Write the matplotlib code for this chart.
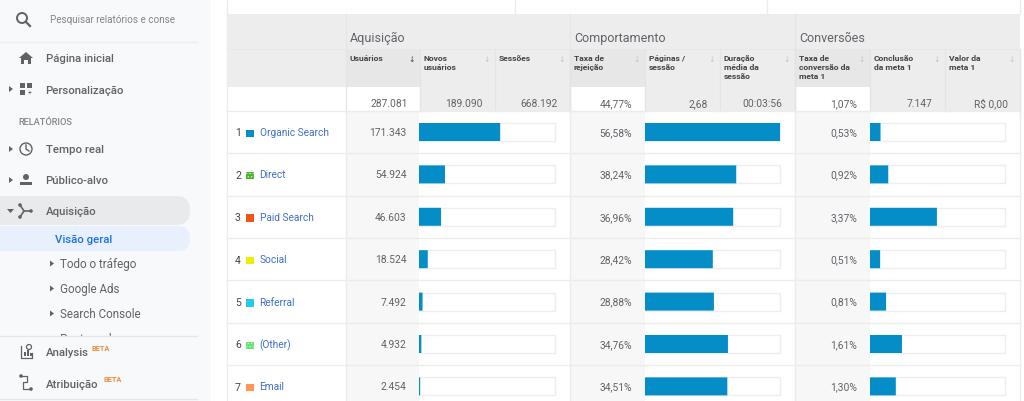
import matplotlib
matplotlib.use('Agg')
import matplotlib.pyplot as plt
from matplotlib.patches import Rectangle, Circle, Polygon, FancyBboxPatch

plt.rcParams['font.family'] = ['Roboto', 'DejaVu Sans']
plt.rcParams['hatch.linewidth'] = 0.5

W, H = 1024, 402

# Dados da tabela
channels = ['Organic Search', 'Direct', 'Paid Search', 'Social', 'Referral', '(Other)', 'Email']
channel_colors = ['#058dc7', '#50b432', '#ed561b', '#edef00', '#24cbe5', '#64e572', '#ff9655']
hatched = ['Direct', '(Other)']
users = [171343, 54924, 46603, 18524, 7492, 4932, 2454]
users_txt = ['171.343', '54.924', '46.603', '18.524', '7.492', '4.932', '2.454']
bounce = [56.58, 38.24, 36.96, 28.42, 28.88, 34.76, 34.51]
conv = [0.53, 0.92, 3.37, 0.51, 0.81, 1.61, 1.30]
users_total = 287081
conv_scale = 6.8

groups = ['Aquisição', 'Comportamento', 'Conversões']
metric_names = ['Usuários', 'Novos\nusuários', 'Sessões',
                'Taxa de\nrejeição', 'Páginas /\nsessão', 'Duração\nmédia da\nsessão',
                'Taxa de\nconversão da\nmeta 1', 'Conclusão\nda meta 1', 'Valor da\nmeta 1']
totals = ['287.081', '189.090', '668.192', '44,77%', '2,68', '00:03:56', '1,07%', '7.147', 'R$ 0,00']

menu_main = [('Página inicial', 59.5), ('Personalização', 90.5), ('Tempo real', 150.5),
             ('Público-alvo', 181.5), ('Aquisição', 212)]
menu_sub = [('Todo o tráfego', 264.5), ('Google Ads', 289.5), ('Search Console', 314.5)]

col_x = [346, 420, 495, 570, 645, 720, 795, 870, 945, 1020]
row_first = 133
row_step = 42.4
row_y = [row_first + i * row_step for i in range(len(channels))]

fig = plt.figure(figsize=(W / 100, H / 100), dpi=100, facecolor='white')
ax = fig.add_axes([0, 0, 1, 1])
ax.set_xlim(0, W)
ax.set_ylim(H, 0)
ax.axis('off')

TXT = '#5f6368'
DARK = '#444444'
GRID = '#ececec'


def rect(x0, y0, x1, y1, color, z=1, **kw):
    ax.add_patch(Rectangle((x0, y0), x1 - x0, y1 - y0, facecolor=color, edgecolor='none', zorder=z, **kw))


# Barra lateral
rect(0, 0, 211, H, '#f8f9fa')
ax.plot([0, 197], [43, 43], color='#eeeeee', lw=1, zorder=2)
ax.add_patch(Circle((22, 19), 5, fill=False, edgecolor=TXT, lw=1.4, zorder=3))
ax.plot([26, 30], [23, 27], color=TXT, lw=1.6, zorder=3)
ax.text(49.5, 20, 'Pesquisar relatórios e conse', fontsize=7.15, color='#80868b', va='center', zorder=3)

ax.add_patch(FancyBboxPatch((-20, 197), 210, 29, boxstyle='round,pad=0,rounding_size=14',
                            facecolor='#e9eaec', edgecolor='none', zorder=2))
ax.add_patch(FancyBboxPatch((-20, 227), 210, 25, boxstyle='round,pad=0,rounding_size=12',
                            facecolor='#e8f0fe', edgecolor='none', zorder=2))

for name, y in menu_main:
    ax.text(45.5, y, name, fontsize=8.2, color=TXT, va='center', zorder=3, fontweight='medium')
ax.text(18, 122.5, 'RELATÓRIOS', fontsize=6.7, color='#80868b', va='center', zorder=3, fontweight='medium')
ax.text(55, 240, 'Visão geral', fontsize=8.2, color='#1a73e8', va='center', zorder=3, fontweight='medium')
for name, y in menu_sub:
    ax.text(60, y, name, fontsize=8.4, color=TXT, va='center', zorder=3)
    ax.add_patch(Polygon([(50, y - 3), (50, y + 3), (54, y)], facecolor=TXT, zorder=3))
ax.text(60, 340, 'Post-venda', fontsize=8.4, color=TXT, va='center', zorder=1.5)

for y in [90, 150, 181]:
    ax.add_patch(Polygon([(9, y - 3), (9, y + 3), (13, y)], facecolor=TXT, zorder=3))
ax.add_patch(Polygon([(7, 210), (14, 210), (10.5, 214)], facecolor=TXT, zorder=3))

# Icones
ax.add_patch(Polygon([(19, 59), (26, 53), (33, 59), (31, 59), (31, 65), (28, 65), (28, 61),
                      (24, 61), (24, 65), (21, 65), (21, 59)], facecolor=TXT, zorder=3))
for x0, y0, x1, y1 in [(20, 84, 25, 89), (27, 84, 32, 89), (20, 91, 25, 96)]:
    rect(x0, y0, x1, y1, TXT, z=3)
ax.text(29.5, 93.5, '+', fontsize=5, color=TXT, ha='center', va='center', zorder=3)
ax.add_patch(Circle((26, 150), 6, fill=False, edgecolor=TXT, lw=1, zorder=3))
ax.plot([26, 26, 29], [146, 150, 152], color=TXT, lw=1, zorder=3)
ax.add_patch(Circle((26, 178), 3, facecolor=TXT, edgecolor='none', zorder=3))
rect(20, 183, 32, 186, TXT, z=3)
ax.plot([20, 24, 31], [206, 212, 212], color=TXT, lw=1.2, zorder=3)
ax.plot([20, 24], [218, 212], color=TXT, lw=1.2, zorder=3)
for px, py in [(20, 206), (20, 218), (31, 212)]:
    ax.add_patch(Circle((px, py), 1.8, facecolor=TXT, edgecolor='none', zorder=3))

# Parte inferior do menu
rect(0, 337, 211, H, '#f8f9fa', z=2)
ax.plot([0, 197], [337, 337], color='#e6e6e6', lw=1, zorder=3)
ax.plot([0, 197], [400, 400], color='#e6e6e6', lw=1, zorder=3)
ax.text(45.5, 353.5, 'Analysis', fontsize=8.2, color=TXT, va='center', zorder=4, fontweight='medium')
ax.text(91, 349.5, 'BETA', fontsize=5.3, color='#f08a3c', va='center', zorder=4, fontweight='bold')
ax.text(45.5, 384.5, 'Atribuição', fontsize=8.2, color=TXT, va='center', zorder=4, fontweight='medium')
ax.text(103, 380.5, 'BETA', fontsize=5.3, color='#f08a3c', va='center', zorder=4, fontweight='bold')
ax.plot([21, 21, 32, 32], [347, 359, 359, 354], color=TXT, lw=0.9, zorder=4)
for bx0, bh in [(24, 4), (27, 6), (30, 3)]:
    rect(bx0, 357 - bh, bx0 + 1.5, 357, TXT, z=4)
ax.add_patch(Circle((29, 348), 2.5, fill=False, edgecolor=TXT, lw=0.9, zorder=4))
ax.plot([21, 27, 27, 23, 23, 31], [377, 377, 383, 383, 390, 390], color=TXT, lw=0.9, zorder=4)
ax.add_patch(Circle((21, 377), 1.8, facecolor=TXT, edgecolor='none', zorder=4))
ax.add_patch(Circle((31, 390), 1.8, facecolor=TXT, edgecolor='none', zorder=4))

# Topo da tabela
ax.plot([227, 227], [0, H], color=GRID, lw=1, zorder=2)
ax.plot([515, 515], [0, 15], color=GRID, lw=1, zorder=2)
ax.plot([767, 767], [0, 15], color=GRID, lw=1, zorder=2)
ax.plot([1019.5, 1019.5], [0, 15], color=GRID, lw=1, zorder=2)

# Cabecalho
rect(227, 15, 1020, 88, '#ededed')
rect(227, 88, 1020, 112, '#ededed')
rect(227, 88, 420, 112, 'white', z=1.1)
rect(570, 88, 645, 112, 'white', z=1.1)
rect(795, 88, 870, 112, 'white', z=1.1)
for x0 in [346, 570, 795]:
    rect(x0, 50, x0 + 75, 88, '#e7e7e7', z=1.1)

for x, g in zip([350, 574, 799], groups):
    ax.text(x, 38.5, g, fontsize=9, color=TXT, va='center', zorder=3)
for x in [346, 570, 795]:
    ax.plot([x, x], [15, 112], color='#e6e6e6', lw=1, zorder=2)
ax.plot([227, 1020], [50, 50], color='#e8e8e8', lw=0.6, zorder=2)
for x in col_x[1:]:
    ax.plot([x, x], [50, 112], color='#e4e4e4', lw=1, zorder=2)

for i, (name, total) in enumerate(zip(metric_names, totals)):
    x0, x1 = col_x[i], col_x[i + 1]
    ax.text(x0 + 4, 55, name, fontsize=6.1, color=DARK, va='top', fontweight='bold',
            linespacing=1.36, zorder=3)
    ax.text(x1 - 8, 59, '↓', fontsize=5.5, ha='center', va='center',
            color='#444444' if i == 0 else '#c4c4c4', zorder=3, family=['DejaVu Sans'])
    # baseline para o R$ nao ficar desalinhado
    ax.text(x1 - 12.5, 107, total, fontsize=7.4, color=TXT, ha='right', va='baseline', zorder=3)

# Linhas da tabela
for x0 in [346, 570, 795]:
    rect(x0, 112, x0 + 75 if x0 > 346 else 419, H, '#f7f7f7', z=1.1)
ax.plot([227, 1020], [112, 112], color=GRID, lw=1, zorder=2)
for y in row_y:
    ax.plot([227, 1020], [y + 21.2, y + 21.2], color=GRID, lw=1, zorder=2)
for x in [346, 570, 795, 1020]:
    ax.plot([x, x], [112, H], color=GRID, lw=1, zorder=2)

for i, y in enumerate(row_y):
    ax.text(235, y + 0.5, str(i + 1), fontsize=7.6, color=DARK, ha='left', va='center', zorder=3)
    ax.add_patch(Rectangle((246, y - 2.5), 7.5, 7.5, facecolor=channel_colors[i], edgecolor='none', zorder=3))
    if channels[i] in hatched:
        ax.add_patch(Rectangle((246, y - 2.5), 7.5, 7.5, facecolor='none', edgecolor='#d8f0d0',
                               hatch='.....', lw=0, zorder=3.1))
    ax.text(259.5, y, channels[i], fontsize=7.25, color='#3f6fc9', va='center', zorder=3)
    ax.text(406.5, y, users_txt[i], fontsize=7.4, color=TXT, ha='right', va='center', zorder=3)
    ax.text(632, y, f'{bounce[i]:.2f}%'.replace('.', ','), fontsize=7.4, color=TXT, ha='right', va='center', zorder=3)
    ax.text(857, y, f'{conv[i]:.2f}%'.replace('.', ','), fontsize=7.4, color=TXT, ha='right', va='center', zorder=3)


# Colunas de barras, cada uma com a sua escala
def bar_column(x0, x1, values, vmax):
    bx = fig.add_axes([x0 / W, 0, (x1 - x0) / W, 1])
    bx.set_xlim(0, vmax)
    bx.set_ylim(H, 0)
    bx.axis('off')
    bx.patch.set_alpha(0)
    tracks = bx.barh(row_y, [vmax] * len(values), height=18, color='white', edgecolor='#eeeeee', lw=1, zorder=1)
    for t in tracks:
        t.set_clip_on(False)
    bx.barh(row_y, values, height=18, color='#058dc7', zorder=2, snap=False)


bar_column(419, 555, users, users_total)
bar_column(645, 780, bounce, max(bounce))
bar_column(870, 1005, conv, conv_scale)

fig.savefig('out.png', dpi=100)
